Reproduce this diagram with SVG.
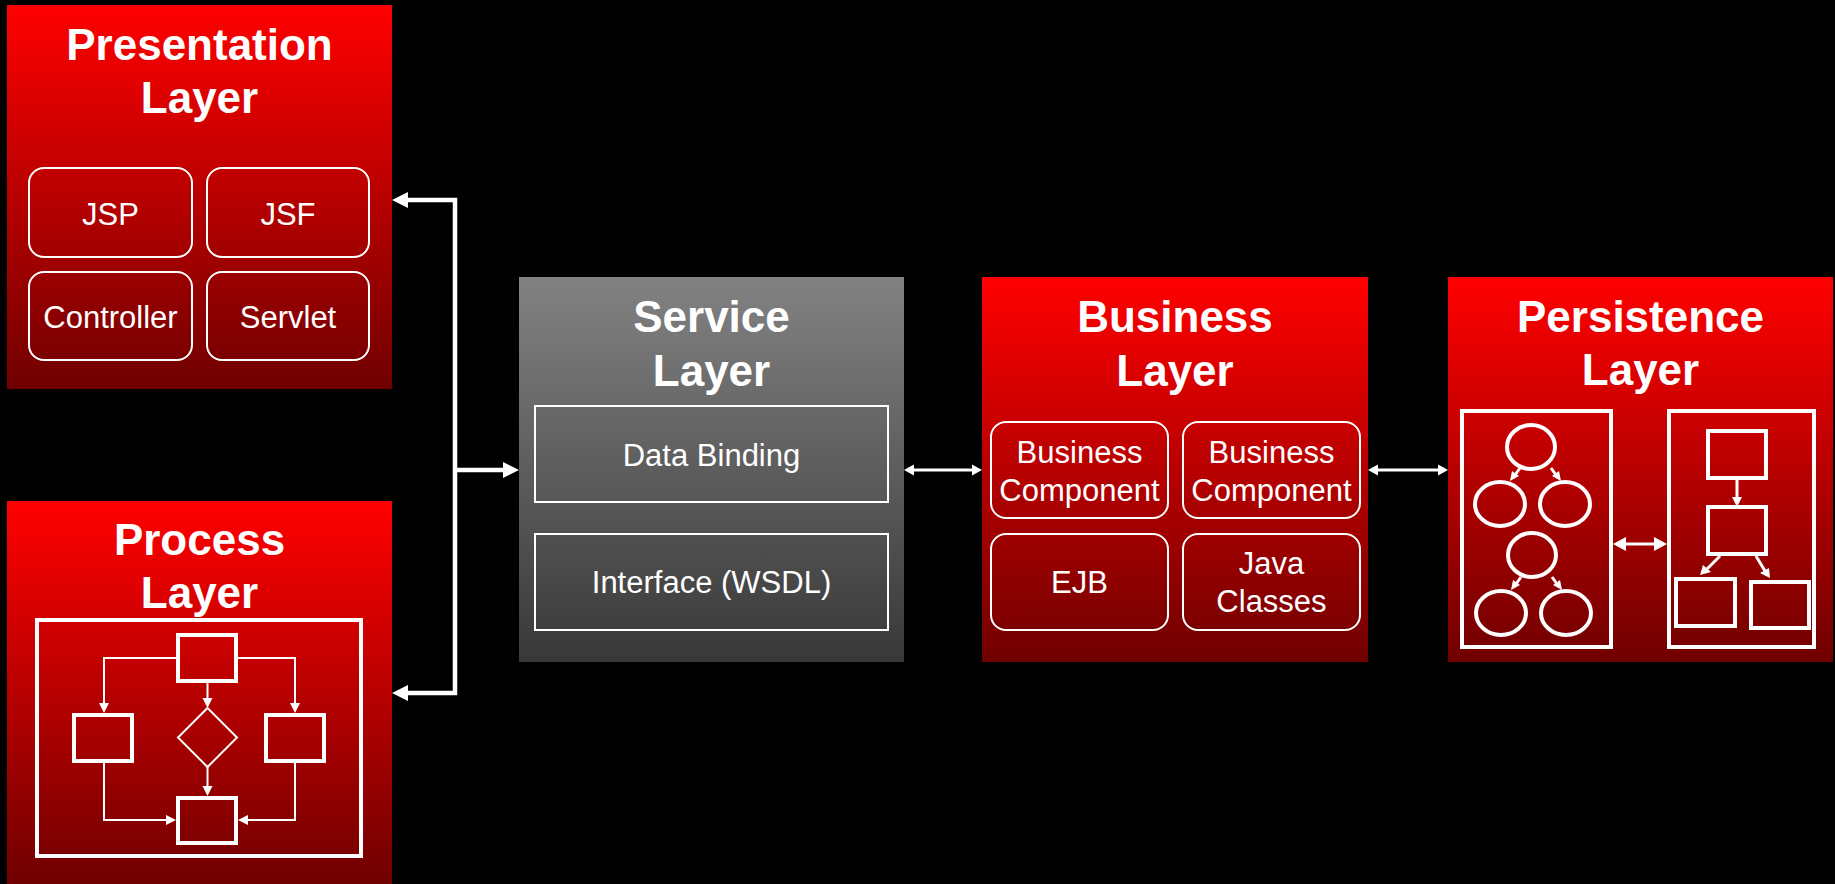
<svg xmlns="http://www.w3.org/2000/svg" width="1835" height="884" viewBox="0 0 1835 884">
<defs>
<linearGradient id="red" x1="0" y1="0" x2="0" y2="1">
<stop offset="0" stop-color="#ff0000"/>
<stop offset="1" stop-color="#700000"/>
</linearGradient>
<linearGradient id="gray" x1="0" y1="0" x2="0" y2="1">
<stop offset="0" stop-color="#828282"/>
<stop offset="1" stop-color="#383838"/>
</linearGradient>
<style>
.title{font-family:"Liberation Sans",Arial,sans-serif;font-weight:bold;font-size:44px;fill:#fff;text-anchor:middle}
.lbl{font-family:"Liberation Sans",Arial,sans-serif;font-size:31px;fill:#fff;text-anchor:middle}
.rbox{fill:none;stroke:#fff;stroke-width:2}
.frame{fill:none;stroke:#fff;stroke-width:4}
.thin{fill:none;stroke:#fff;stroke-width:2}
.mid{fill:none;stroke:#fff;stroke-width:3}
.conn{fill:none;stroke:#fff;stroke-width:4.5}
.head{fill:#fff}
</style>
</defs>
<rect x="0" y="0" width="1835" height="884" fill="#000"/>

<g id="presentation">
<rect x="7" y="5" width="385" height="384" fill="url(#red)"/>
<text class="title" x="199.5" y="60">Presentation</text>
<text class="title" x="199.5" y="113">Layer</text>
<rect class="rbox" x="29" y="168" width="163" height="89" rx="15"/>
<rect class="rbox" x="207" y="168" width="162" height="89" rx="15"/>
<rect class="rbox" x="29" y="272" width="163" height="88" rx="15"/>
<rect class="rbox" x="207" y="272" width="162" height="88" rx="15"/>
<text class="lbl" x="110.5" y="225">JSP</text>
<text class="lbl" x="288" y="225">JSF</text>
<text class="lbl" x="110.5" y="328">Controller</text>
<text class="lbl" x="288" y="328">Servlet</text>
</g>

<g id="process">
<rect x="7" y="501" width="385" height="383" fill="url(#red)"/>
<text class="title" x="199.5" y="555">Process</text>
<text class="title" x="199.5" y="608">Layer</text>
<rect class="frame" x="37" y="620" width="324" height="236"/>
<rect class="frame" x="178" y="635" width="58" height="46"/>
<rect class="frame" x="74" y="715" width="58" height="46"/>
<rect class="frame" x="266" y="715" width="58" height="46"/>
<rect class="frame" x="178" y="798" width="58" height="45"/>
<polygon class="thin" points="207.5,708 237,737.5 207.5,767 178,737.5"/>
<path class="thin" d="M178,658 H104 V704"/>
<polygon class="head" points="104,713 99,703 109,703"/>
<path class="thin" d="M236,658 H295 V704"/>
<polygon class="head" points="295,713 290,703 300,703"/>
<path class="thin" d="M207.5,683 V699"/>
<polygon class="head" points="207.5,708 202.5,698 212.5,698"/>
<path class="thin" d="M207.5,767 V787"/>
<polygon class="head" points="207.5,796 202.5,786 212.5,786"/>
<path class="thin" d="M104,763 V820 H167"/>
<polygon class="head" points="176,820 166,815 166,825"/>
<path class="thin" d="M295,763 V820 H247"/>
<polygon class="head" points="238,820 248,815 248,825"/>
</g>

<g id="service">
<rect x="519" y="277" width="385" height="385" fill="url(#gray)"/>
<text class="title" x="711.5" y="332">Service</text>
<text class="title" x="711.5" y="386">Layer</text>
<rect class="rbox" x="535" y="406" width="353" height="96"/>
<rect class="rbox" x="535" y="534" width="353" height="96"/>
<text class="lbl" x="711.5" y="466">Data Binding</text>
<text class="lbl" x="711.5" y="593">Interface (WSDL)</text>
</g>

<g id="business">
<rect x="982" y="277" width="386" height="385" fill="url(#red)"/>
<text class="title" x="1175" y="332">Business</text>
<text class="title" x="1175" y="386">Layer</text>
<rect class="rbox" x="991" y="422" width="177" height="96" rx="15"/>
<rect class="rbox" x="1183" y="422" width="177" height="96" rx="15"/>
<rect class="rbox" x="991" y="534" width="177" height="96" rx="15"/>
<rect class="rbox" x="1183" y="534" width="177" height="96" rx="15"/>
<text class="lbl" x="1079.5" y="463">Business</text>
<text class="lbl" x="1079.5" y="501">Component</text>
<text class="lbl" x="1271.5" y="463">Business</text>
<text class="lbl" x="1271.5" y="501">Component</text>
<text class="lbl" x="1079.5" y="593">EJB</text>
<text class="lbl" x="1271.5" y="574">Java</text>
<text class="lbl" x="1271.5" y="612">Classes</text>
</g>

<g id="persistence">
<rect x="1448" y="277" width="385" height="385" fill="url(#red)"/>
<text class="title" x="1640.5" y="332">Persistence</text>
<text class="title" x="1640.5" y="385">Layer</text>
<rect class="frame" x="1462" y="411" width="149" height="236"/>
<rect class="frame" x="1669" y="411" width="145" height="236"/>
<ellipse class="frame" cx="1531" cy="447" rx="24" ry="22"/>
<ellipse class="frame" cx="1500" cy="504" rx="25" ry="22"/>
<ellipse class="frame" cx="1565" cy="504" rx="25" ry="22"/>
<ellipse class="frame" cx="1532" cy="555" rx="24" ry="22"/>
<ellipse class="frame" cx="1501" cy="613" rx="25" ry="22"/>
<ellipse class="frame" cx="1566" cy="613" rx="25" ry="22"/>
<path class="mid" d="M1520,468 L1515,475"/>
<polygon class="head" points="1510,481 1512,471 1519,476"/>
<path class="mid" d="M1551,468 L1556,475"/>
<polygon class="head" points="1561,481 1552,476 1559,471"/>
<path class="mid" d="M1521,577 L1516,584"/>
<polygon class="head" points="1511,590 1513,580 1520,585"/>
<path class="mid" d="M1552,577 L1557,584"/>
<polygon class="head" points="1562,590 1553,585 1560,580"/>
<rect class="frame" x="1708" y="431" width="58" height="47"/>
<rect class="frame" x="1708" y="507" width="58" height="47"/>
<rect class="frame" x="1676" y="579" width="59" height="47"/>
<rect class="frame" x="1751" y="582" width="58" height="46"/>
<path class="mid" d="M1737,478 V498"/>
<polygon class="head" points="1737,507 1732,497 1742,497"/>
<path class="mid" d="M1720,556 L1707,569"/>
<polygon class="head" points="1700,575 1703,565 1711,572"/>
<path class="mid" d="M1756,556 L1765,571"/>
<polygon class="head" points="1770,578 1760,573 1769,568"/>
<path class="mid" d="M1622,544 H1658"/>
<polygon class="head" points="1613,544 1626,537 1626,551"/>
<polygon class="head" points="1667,544 1654,537 1654,551"/>
</g>

<g id="connectors">
<path class="conn" d="M406,200 H455 V693 H406"/>
<polygon class="head" points="392,200 408,192 408,208"/>
<polygon class="head" points="392,693 408,685 408,701"/>
<path class="conn" d="M455,470 H505"/>
<polygon class="head" points="519,470 503,462 503,478"/>
<path class="mid" d="M912,470 H974"/>
<polygon class="head" points="904,470 914,464.5 914,475.5"/>
<polygon class="head" points="982,470 972,464.5 972,475.5"/>
<path class="mid" d="M1376,470 H1440"/>
<polygon class="head" points="1368,470 1378,464.5 1378,475.5"/>
<polygon class="head" points="1448,470 1438,464.5 1438,475.5"/>
</g>
</svg>
